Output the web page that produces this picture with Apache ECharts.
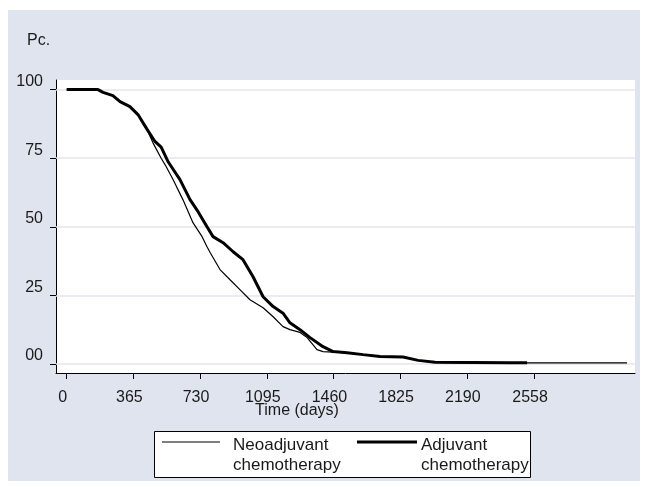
<!DOCTYPE html>
<html><head><meta charset="utf-8">
<script src="https://cdn.jsdelivr.net/npm/echarts@6/dist/echarts.min.js"></script>
<style>
html,body{margin:0;padding:0;background:#fff;}
#frame{position:absolute;left:8px;top:10px;width:632px;height:471px;background:#dfe4ee;}
#c{position:absolute;left:0;top:0;width:647px;height:487px;}
</style>
</head><body><div id="frame"></div><div id="c"></div>
<script>
// ---- data ----
const seriesNames = ['Neoadjuvant\nchemotherapy', 'Adjuvant\nchemotherapy'];
const xTickValues = [0, 365, 730, 1095, 1460, 1825, 2190, 2558];
const yTickValues = [0, 25, 50, 75, 100];
const yTickLabels = ['00', '25', '50', '75', '100'];
const xTitle = 'Time (days)';
const yTitle = 'Pc.';

const neoDays = [0, 170, 199, 253, 292, 346, 390, 440, 456, 473, 517, 544, 582, 636, 691, 741, 768, 785, 839, 894, 948, 1003, 1075, 1130, 1184, 1222, 1277, 1316, 1370, 1403, 1458, 1534, 1622, 1715, 1841, 1924, 2016, 2208, 3067];
const neoVals = [100, 100, 99, 97.8, 95.6, 93.8, 90.9, 85.5, 83, 80.5, 75, 72, 67.2, 59.9, 51.5, 46.4, 42.7, 40.6, 34.4, 30.7, 27.1, 23.4, 20.5, 17.2, 13.6, 12.5, 11.5, 9.6, 5.2, 4.5, 4.3, 4.1, 3.4, 2.7, 2.5, 1.3, 0.6, 0.4, 0.4];

const adjDays = [0, 171, 199, 253, 292, 346, 390, 440, 483, 517, 556, 620, 675, 719, 768, 801, 856, 911, 965, 1020, 1075, 1130, 1184, 1222, 1277, 1332, 1403, 1458, 1534, 1622, 1715, 1841, 1924, 2016, 2430, 2520];
const adjVals = [100, 100, 99, 97.8, 95.6, 93.8, 90.9, 85.5, 81.1, 79, 73.6, 67.2, 59.9, 55.5, 50, 46.4, 44.2, 40.9, 38, 31.8, 24.5, 20.9, 18.5, 15, 12.5, 9.6, 6.3, 4.5, 4.1, 3.4, 2.7, 2.5, 1.3, 0.6, 0.4, 0.4];

// ---- chart ----
const FONT = '"Liberation Sans", Arial, sans-serif';
const TXT = '#1a1a1a';
const pair = (xs, ys) => xs.map((x, i) => [x, ys[i]]);

const chart = echarts.init(document.getElementById('c'), null, {renderer: 'canvas'});
chart.setOption({
  backgroundColor: 'transparent',
  animation: false,
  grid: {left: 56, top: 80, width: 579, height: 293, show: true, backgroundColor: '#fff', borderWidth: 0},
  xAxis: {
    type: 'value', min: -58.6, max: 3110.7,
    axisLine: {show: true, onZero: false, lineStyle: {color: '#000', width: 1}},
    axisTick: {show: true, customValues: xTickValues, length: 6, lineStyle: {color: '#000', width: 1}},
    axisLabel: {customValues: xTickValues, margin: 17, fontSize: 16, color: TXT, fontFamily: FONT,
      padding: [0, 8, 0, 0], formatter: v => String(v)},
    splitLine: {show: false}
  },
  yAxis: {
    type: 'value', min: -3.3, max: 103.5,
    axisLine: {show: true, onZero: false, lineStyle: {color: '#000', width: 1}},
    axisTick: {show: true, customValues: yTickValues, length: 6, lineStyle: {color: '#000', width: 1}},
    axisLabel: {customValues: yTickValues, margin: 13, fontSize: 16, color: TXT, fontFamily: FONT,
      verticalAlign: 'bottom', lineHeight: 16,
      formatter: v => { const i = yTickValues.indexOf(v); return i >= 0 ? yTickLabels[i] : ''; }},
    splitLine: {show: false}
  },
  graphic: [
    {type: 'text', x: 27, y: 41, z: 100, style: {text: yTitle, font: '16px ' + FONT, fill: TXT, verticalAlign: 'middle', align: 'left'}},
    {type: 'text', x: 297, y: 411, z: 100, style: {text: xTitle, font: '16px ' + FONT, fill: TXT, verticalAlign: 'middle', align: 'center'}},
    {type: 'rect', z: 100, shape: {x: 154.5, y: 431.5, width: 376, height: 46}, style: {fill: '#fff', stroke: '#000', lineWidth: 1}},
    {type: 'line', z: 101, shape: {x1: 162, y1: 442, x2: 220, y2: 442}, style: {stroke: '#000', lineWidth: 1.2}},
    {type: 'text', z: 101, x: 233, y: 435, style: {text: seriesNames[0], font: '17px ' + FONT, lineHeight: 20, fill: TXT, verticalAlign: 'top', align: 'left'}},
    {type: 'line', z: 101, shape: {x1: 357, y1: 442, x2: 417, y2: 442}, style: {stroke: '#000', lineWidth: 3}},
    {type: 'text', z: 101, x: 421, y: 435, style: {text: seriesNames[1], font: '17px ' + FONT, lineHeight: 20, fill: TXT, verticalAlign: 'top', align: 'left'}}
  ],
  series: [
    {
      type: 'line', name: 'grid', data: [], z: 1, silent: true,
      markLine: {
        silent: true, z: 1, symbol: ['none', 'none'], label: {show: false},
        lineStyle: {color: '#e4e4ef', width: 1.5, type: 'solid'},
        emphasis: {disabled: true},
        data: yTickValues.map(v => ({yAxis: v}))
      }
    },
    {
      type: 'line', name: seriesNames[0], data: pair(neoDays, neoVals), z: 10,
      symbol: 'none', lineStyle: {color: '#000', width: 1.2}, itemStyle: {color: '#000'}
    },
    {
      type: 'line', name: seriesNames[1], data: pair(adjDays, adjVals), z: 11,
      symbol: 'none', lineStyle: {color: '#000', width: 3}, itemStyle: {color: '#000'}
    }
  ]
});
</script>
</body></html>
